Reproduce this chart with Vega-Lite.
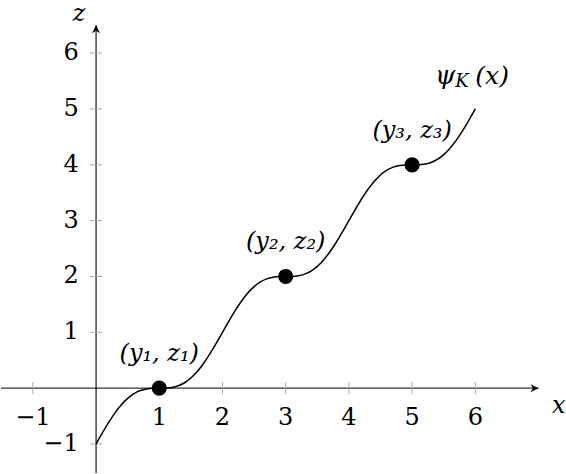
{
  "$schema": "https://vega.github.io/schema/vega-lite/v6.json",
  "width": 566,
  "height": 474,
  "autosize": {"type": "fit", "contains": "padding"},
  "padding": 0,
  "background": "white",
  "config": {"view": {"stroke": null}, "text": {"font": "DejaVu Serif, serif"}},
  "datasets": {
    "curve": [
      {"x": 0.0, "z": -1.0}, {"x": 0.1, "z": -0.80164}, {"x": 0.2, "z": -0.6129}, {"x": 0.3, "z": -0.44248}, {"x": 0.4, "z": -0.29727},
      {"x": 0.5, "z": -0.18169}, {"x": 0.6, "z": -0.09727}, {"x": 0.7, "z": -0.04248}, {"x": 0.8, "z": -0.0129}, {"x": 0.9, "z": -0.00164},
      {"x": 1.0, "z": 0.0}, {"x": 1.1, "z": 0.00164}, {"x": 1.2, "z": 0.0129}, {"x": 1.3, "z": 0.04248}, {"x": 1.4, "z": 0.09727},
      {"x": 1.5, "z": 0.18169}, {"x": 1.6, "z": 0.29727}, {"x": 1.7, "z": 0.44248}, {"x": 1.8, "z": 0.6129}, {"x": 1.9, "z": 0.80164},
      {"x": 2.0, "z": 1.0}, {"x": 2.1, "z": 1.19836}, {"x": 2.2, "z": 1.3871}, {"x": 2.3, "z": 1.55752}, {"x": 2.4, "z": 1.70273},
      {"x": 2.5, "z": 1.81831}, {"x": 2.6, "z": 1.90273}, {"x": 2.7, "z": 1.95752}, {"x": 2.8, "z": 1.9871}, {"x": 2.9, "z": 1.99836},
      {"x": 3.0, "z": 2.0}, {"x": 3.1, "z": 2.00164}, {"x": 3.2, "z": 2.0129}, {"x": 3.3, "z": 2.04248}, {"x": 3.4, "z": 2.09727},
      {"x": 3.5, "z": 2.18169}, {"x": 3.6, "z": 2.29727}, {"x": 3.7, "z": 2.44248}, {"x": 3.8, "z": 2.6129}, {"x": 3.9, "z": 2.80164},
      {"x": 4.0, "z": 3.0}, {"x": 4.1, "z": 3.19836}, {"x": 4.2, "z": 3.3871}, {"x": 4.3, "z": 3.55752}, {"x": 4.4, "z": 3.70273},
      {"x": 4.5, "z": 3.81831}, {"x": 4.6, "z": 3.90273}, {"x": 4.7, "z": 3.95752}, {"x": 4.8, "z": 3.9871}, {"x": 4.9, "z": 3.99836},
      {"x": 5.0, "z": 4.0}, {"x": 5.1, "z": 4.00164}, {"x": 5.2, "z": 4.0129}, {"x": 5.3, "z": 4.04248}, {"x": 5.4, "z": 4.09727},
      {"x": 5.5, "z": 4.18169}, {"x": 5.6, "z": 4.29727}, {"x": 5.7, "z": 4.44248}, {"x": 5.8, "z": 4.6129}, {"x": 5.9, "z": 4.80164},
      {"x": 6.0, "z": 5.0}
    ],
    "xticks": [
      {"x": -1, "label": "−1"}, {"x": 1, "label": "1"}, {"x": 2, "label": "2"}, {"x": 3, "label": "3"},
      {"x": 4, "label": "4"}, {"x": 5, "label": "5"}, {"x": 6, "label": "6"}
    ],
    "yticks": [
      {"z": -1, "label": "−1"}, {"z": 1, "label": "1"}, {"z": 2, "label": "2"}, {"z": 3, "label": "3"},
      {"z": 4, "label": "4"}, {"z": 5, "label": "5"}, {"z": 6, "label": "6"}
    ],
    "pts": [
      {"x": 1, "z": 0, "label": "(y₁, z₁)"},
      {"x": 3, "z": 2, "label": "(y₂, z₂)"},
      {"x": 5, "z": 4, "label": "(y₃, z₃)"}
    ]
  },
  "layer": [
    {
      "data": {"values": [{}]},
      "mark": {"type": "rule", "color": "#333", "strokeWidth": 1.1},
      "encoding": {
        "x": {"datum": -1.504, "type": "quantitative", "scale": {"domain": [-1.504, 7.419], "nice": false, "zero": false}, "axis": null},
        "x2": {"datum": 7.0},
        "y": {"datum": 0, "type": "quantitative", "scale": {"domain": [-1.519, 6.951], "nice": false, "zero": false}, "axis": null}
      }
    },
    {
      "data": {"values": [{}]},
      "mark": {"type": "rule", "color": "#000", "strokeWidth": 1.1},
      "encoding": {
        "x": {"datum": 0, "type": "quantitative", "scale": {"domain": [-1.504, 7.419], "nice": false, "zero": false}, "axis": null},
        "y": {"datum": -1.519, "type": "quantitative", "scale": {"domain": [-1.519, 6.951], "nice": false, "zero": false}, "axis": null},
        "y2": {"datum": 6.5}
      }
    },
    {
      "data": {"values": [{}]},
      "mark": {"type": "point", "filled": true, "color": "#000", "opacity": 1, "size": 16, "shape": "M 0 0 L -4 -2 L -2.8 0 L -4 2 Z"},
      "encoding": {
        "x": {"datum": 7.0, "type": "quantitative", "scale": {"domain": [-1.504, 7.419], "nice": false, "zero": false}, "axis": null},
        "y": {"datum": 0, "type": "quantitative", "scale": {"domain": [-1.519, 6.951], "nice": false, "zero": false}, "axis": null}
      }
    },
    {
      "data": {"values": [{}]},
      "mark": {"type": "point", "filled": true, "color": "#000", "opacity": 1, "size": 16, "shape": "M 0 0 L -2 4 L 0 2.8 L 2 4 Z"},
      "encoding": {
        "x": {"datum": 0, "type": "quantitative", "scale": {"domain": [-1.504, 7.419], "nice": false, "zero": false}, "axis": null},
        "y": {"datum": 6.5, "type": "quantitative", "scale": {"domain": [-1.519, 6.951], "nice": false, "zero": false}, "axis": null}
      }
    },
    {
      "data": {"name": "xticks"},
      "mark": {"type": "rule", "color": "#aaa", "strokeWidth": 1},
      "encoding": {
        "x": {"field": "x", "type": "quantitative", "scale": {"domain": [-1.504, 7.419], "nice": false, "zero": false}, "axis": null},
        "y": {"datum": -0.107, "type": "quantitative", "scale": {"domain": [-1.519, 6.951], "nice": false, "zero": false}, "axis": null},
        "y2": {"datum": 0.107}
      }
    },
    {
      "data": {"name": "yticks"},
      "mark": {"type": "rule", "color": "#aaa", "strokeWidth": 1},
      "encoding": {
        "y": {"field": "z", "type": "quantitative", "scale": {"domain": [-1.519, 6.951], "nice": false, "zero": false}, "axis": null},
        "x": {"datum": -0.095, "type": "quantitative", "scale": {"domain": [-1.504, 7.419], "nice": false, "zero": false}, "axis": null},
        "x2": {"datum": 0.095}
      }
    },
    {
      "data": {"name": "xticks"},
      "mark": {"type": "text", "fontSize": 24, "align": "center", "baseline": "middle", "color": "#000"},
      "encoding": {
        "x": {"field": "x", "type": "quantitative", "scale": {"domain": [-1.504, 7.419], "nice": false, "zero": false}, "axis": null},
        "y": {"datum": -0.54, "type": "quantitative", "scale": {"domain": [-1.519, 6.951], "nice": false, "zero": false}, "axis": null},
        "text": {"field": "label"}
      }
    },
    {
      "data": {"name": "yticks"},
      "mark": {"type": "text", "fontSize": 24, "align": "right", "baseline": "middle", "color": "#000"},
      "encoding": {
        "y": {"field": "z", "type": "quantitative", "scale": {"domain": [-1.519, 6.951], "nice": false, "zero": false}, "axis": null},
        "x": {"datum": -0.274, "type": "quantitative", "scale": {"domain": [-1.504, 7.419], "nice": false, "zero": false}, "axis": null},
        "text": {"field": "label"}
      }
    },
    {
      "data": {"name": "curve"},
      "mark": {"type": "line", "color": "#000", "strokeWidth": 1.5, "interpolate": "monotone"},
      "encoding": {
        "x": {"field": "x", "type": "quantitative", "scale": {"domain": [-1.504, 7.419], "nice": false, "zero": false}, "axis": null},
        "y": {"field": "z", "type": "quantitative", "scale": {"domain": [-1.519, 6.951], "nice": false, "zero": false}, "axis": null}
      }
    },
    {
      "data": {"name": "pts"},
      "mark": {"type": "point", "filled": true, "color": "#000", "opacity": 1, "size": 230, "shape": "circle"},
      "encoding": {
        "x": {"field": "x", "type": "quantitative", "scale": {"domain": [-1.504, 7.419], "nice": false, "zero": false}, "axis": null},
        "y": {"field": "z", "type": "quantitative", "scale": {"domain": [-1.519, 6.951], "nice": false, "zero": false}, "axis": null}
      }
    },
    {
      "data": {"name": "pts"},
      "mark": {"type": "text", "fontStyle": "italic", "fontSize": 24, "align": "center", "baseline": "middle", "dy": -34, "color": "#000"},
      "encoding": {
        "x": {"field": "x", "type": "quantitative", "scale": {"domain": [-1.504, 7.419], "nice": false, "zero": false}, "axis": null},
        "y": {"field": "z", "type": "quantitative", "scale": {"domain": [-1.519, 6.951], "nice": false, "zero": false}, "axis": null},
        "text": {"field": "label"}
      }
    },
    {
      "data": {"values": [{"x": 7.32, "z": -0.32, "t": "x"}, {"x": -0.27, "z": 6.7, "t": "z"}]},
      "mark": {"type": "text", "fontStyle": "italic", "fontSize": 24, "align": "center", "baseline": "middle", "color": "#000"},
      "encoding": {
        "x": {"field": "x", "type": "quantitative", "scale": {"domain": [-1.504, 7.419], "nice": false, "zero": false}, "axis": null},
        "y": {"field": "z", "type": "quantitative", "scale": {"domain": [-1.519, 6.951], "nice": false, "zero": false}, "axis": null},
        "text": {"field": "t"}
      }
    },
    {
      "data": {"values": [{"x": 6.0, "z": 5.59, "t": "ψ"}]},
      "mark": {"type": "text", "fontStyle": "italic", "fontSize": 26, "align": "right", "baseline": "middle", "dx": -20, "color": "#000"},
      "encoding": {
        "x": {"field": "x", "type": "quantitative", "scale": {"domain": [-1.504, 7.419], "nice": false, "zero": false}, "axis": null},
        "y": {"field": "z", "type": "quantitative", "scale": {"domain": [-1.519, 6.951], "nice": false, "zero": false}, "axis": null},
        "text": {"field": "t"}
      }
    },
    {
      "data": {"values": [{"x": 6.0, "z": 5.59, "t": "K"}]},
      "mark": {"type": "text", "fontStyle": "italic", "fontSize": 18, "align": "left", "baseline": "middle", "dx": -20, "dy": 6, "color": "#000"},
      "encoding": {
        "x": {"field": "x", "type": "quantitative", "scale": {"domain": [-1.504, 7.419], "nice": false, "zero": false}, "axis": null},
        "y": {"field": "z", "type": "quantitative", "scale": {"domain": [-1.519, 6.951], "nice": false, "zero": false}, "axis": null},
        "text": {"field": "t"}
      }
    },
    {
      "data": {"values": [{"x": 6.0, "z": 5.59, "t": "(x)"}]},
      "mark": {"type": "text", "fontStyle": "italic", "fontSize": 25, "align": "left", "baseline": "middle", "dx": 0, "color": "#000"},
      "encoding": {
        "x": {"field": "x", "type": "quantitative", "scale": {"domain": [-1.504, 7.419], "nice": false, "zero": false}, "axis": null},
        "y": {"field": "z", "type": "quantitative", "scale": {"domain": [-1.519, 6.951], "nice": false, "zero": false}, "axis": null},
        "text": {"field": "t"}
      }
    }
  ]
}
